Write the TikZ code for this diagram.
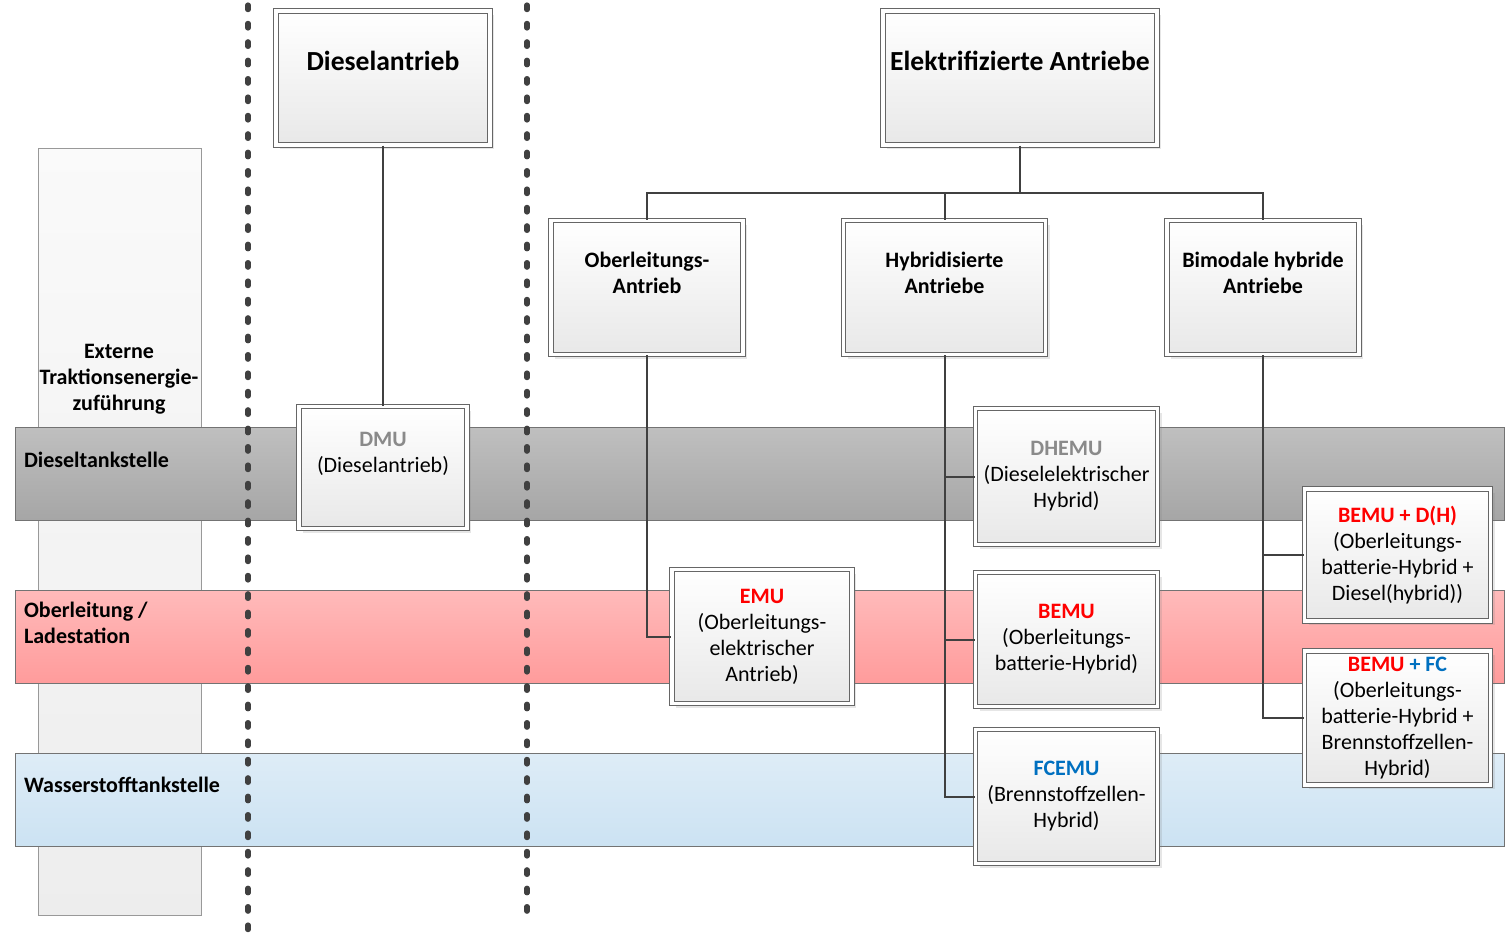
\documentclass[tikz,border=0pt]{standalone}
\usepackage{fontspec}
\setmainfont{Carlito}
\usetikzlibrary{shadows}

\definecolor{linegray}{HTML}{404040}
\definecolor{dmugray}{HTML}{8A8A8A}
\definecolor{emured}{HTML}{FF0000}
\definecolor{fcblue}{HTML}{0070C0}

\tikzset{
  unitbox/.style={draw=black!60, double=white, double distance=1.6pt, line width=0.55pt,
    top color=white, bottom color=black!9,
    drop shadow={opacity=0.2, shadow xshift=2pt, shadow yshift=-2pt},
    align=center, inner sep=2pt, font=\fontsize{11}{13}\selectfont},
  headbox/.style={unitbox, font=\fontsize{13.8}{16}\selectfont\bfseries},
  subbox/.style={unitbox, font=\fontsize{11}{13}\selectfont\bfseries},
  conn/.style={draw=linegray, line width=1pt},
  sepline/.style={draw=linegray, line width=2.6pt, line cap=round, dash pattern=on 2.3pt off 6.9pt},
  bandtext/.style={anchor=west, align=left, font=\fontsize{11}{13}\selectfont\bfseries},
}

\begin{document}
\begin{tikzpicture}[x=0.5pt, y=-0.5pt]
    \useasboundingbox (0,0) rectangle (1506,939);

    % Energiezufuhr
    \path[draw=black!40, top color=black!2, bottom color=black!7] (38,148) rectangle (201,915);
    \path[draw=black!55, top color=black!25, bottom color=black!35] (15,427) rectangle (1504,520);
    \path[draw=black!55, top color=red!27, bottom color=red!39] (15,590) rectangle (1504,683);
    \path[draw=black!55, top color=fcblue!13, bottom color=fcblue!20] (15,753) rectangle (1504,846);
    \node[align=center, font=\fontsize{11}{13}\selectfont\bfseries] (extlabel) at (119,379) {Externe\\Traktionsenergie-\\zuführung};
    \node[bandtext] (dieselband) at (17,460) {Dieseltankstelle};
    \node[bandtext] (oberband) at (17,623) {Oberleitung /\\Ladestation};
    \node[bandtext] (wasserband) at (17,785) {Wasserstofftankstelle};

    \coordinate (sepAtop) at (248,5);
    \coordinate (sepAbot) at (248,939);
    \coordinate (sepBtop) at (527,5);
    \coordinate (sepBbot) at (527,915);
    \draw[sepline] (sepAtop) -- (sepAbot);
    \draw[sepline] (sepBtop) -- (sepBbot);

    % Antriebe
    \node[headbox, minimum width=107pt, minimum height=67pt, text depth=17pt] (diesel) at (383,78) {Dieselantrieb};
    \node[headbox, minimum width=137pt, minimum height=67pt, text depth=17pt] (elek) at (1020,78) {Elektrifizierte Antriebe};
    \node[subbox, minimum width=96pt, minimum height=67pt, text depth=15pt] (ober) at (647,287.5) {Oberleitungs-\\Antrieb};
    \node[subbox, minimum width=101pt, minimum height=67pt, text depth=15pt] (hybr) at (944.5,287.5) {Hybridisierte\\Antriebe};
    \node[subbox, minimum width=96pt, minimum height=67pt, text depth=15pt] (bimo) at (1263,287.5) {Bimodale hybride\\Antriebe};

    % Fahrzeuge
    \node[unitbox, minimum width=84pt, minimum height=61pt, text depth=15pt] (dmu) at (383,467.5) {\textbf{\color{dmugray}DMU}\\(Dieselantrieb)};
    \node[unitbox, minimum width=90pt, minimum height=67pt] (emu) at (762,636.5) {\textbf{\color{emured}EMU}\\(Oberleitungs-\\elektrischer\\Antrieb)};
    \node[unitbox, minimum width=91pt, minimum height=68pt] (dhemu) at (1066.5,476.5) {\textbf{\color{dmugray}DHEMU}\\(Dieselelektrischer\\Hybrid)};
    \node[unitbox, minimum width=91pt, minimum height=67pt] (bemu) at (1066.5,639.5) {\textbf{\color{emured}BEMU}\\(Oberleitungs-\\batterie-Hybrid)};
    \node[unitbox, minimum width=91pt, minimum height=67pt] (fcemu) at (1066.5,796.5) {\textbf{\color{fcblue}FCEMU}\\(Brennstoffzellen-\\Hybrid)};
    \node[unitbox, minimum width=93pt, minimum height=66pt] (bemudh) at (1397.5,555) {\textbf{\color{emured}BEMU + D(H)}\\(Oberleitungs-\\batterie-Hybrid +\\Diesel(hybrid))};
    \node[unitbox, minimum width=93pt, minimum height=67pt] (bemufc) at (1397.5,718) {\textbf{\color{emured}BEMU \color{fcblue}+ FC}\\(Oberleitungs-\\batterie-Hybrid +\\Brennstoffzellen-\\Hybrid)};

    % Verbindungen
    \coordinate (bus) at (1020,193);
    \draw[conn] (diesel) -- (dmu);
    \draw[conn] (elek) -- (bus);
    \draw[conn] (ober) -- (ober |- bus) -- (bimo |- bus) -- (bimo);
    \draw[conn] (hybr) -- (hybr |- bus);
    \draw[conn] (ober) |- (emu);
    \draw[conn] (hybr) |- (fcemu);
    \draw[conn] (hybr |- dhemu) -- (dhemu);
    \draw[conn] (hybr |- bemu) -- (bemu);
    \draw[conn] (bimo) |- (bemufc);
    \draw[conn] (bimo |- bemudh) -- (bemudh);
\end{tikzpicture}
\end{document}
